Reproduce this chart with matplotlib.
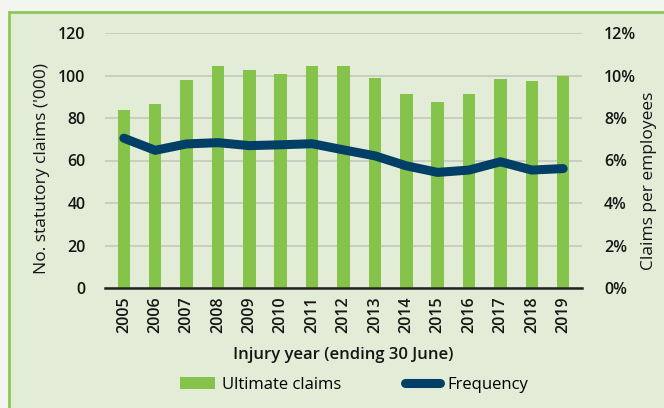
import numpy as np
import matplotlib.pyplot as plt
from matplotlib.patches import Rectangle

plt.rcParams['font.family'] = ['Open Sans', 'DejaVu Sans']

# Data
years = ['2005', '2006', '2007', '2008', '2009', '2010', '2011', '2012',
         '2013', '2014', '2015', '2016', '2017', '2018', '2019']
ultimate_claims = [83.8, 86.5, 97.9, 104.6, 102.4, 100.6, 104.3, 104.5,
                   98.7, 91.1, 87.7, 91.5, 98.2, 97.3, 99.8]
frequency = [7.05, 6.48, 6.78, 6.84, 6.70, 6.74, 6.79, 6.50,
             6.22, 5.75, 5.44, 5.55, 5.94, 5.55, 5.62]

bar_color = '#86c34a'
line_color = '#023f66'
panel_bg = '#e3ecd7'
txt = '#151515'

fig = plt.figure(figsize=(6.64, 4.08), dpi=100)
fig.patch.set_facecolor('#f3f6ee')

# green framed panel behind the axes
fig.patches.append(Rectangle((9 / 664, -0.05), 1.0, 1 - 12 / 408 + 0.05,
                             transform=fig.transFigure, facecolor=panel_bg,
                             edgecolor='#8dc853', linewidth=2, zorder=-5))

ax = fig.add_axes([105 / 664, 1 - 288 / 408, (582 - 105) / 664, (288 - 33) / 408])
ax.set_facecolor('none')
x = np.arange(len(years))
ax.bar(x, ultimate_claims, width=0.4, color=bar_color, zorder=2,
       label='Ultimate claims')
ax.set_ylim(0, 120)
ax.set_xlim(-0.6, len(years) - 0.4)
ax.set_yticks(range(0, 121, 20))
ax.yaxis.grid(True, color='#c4c8c0', linewidth=1.2, zorder=0)
ax.set_axisbelow(True)
for s in ['top', 'right', 'left']:
    ax.spines[s].set_visible(False)
ax.spines['bottom'].set_color('#222222')
ax.spines['bottom'].set_linewidth(1.8)
ax.tick_params(axis='both', length=0, labelsize=11.5, colors=txt)
ax.tick_params(axis='y', pad=14)
ax.tick_params(axis='x', pad=6)
ax.set_xticks(x)
ax.set_xticklabels(years, rotation=90, fontweight='semibold')
for t in ax.get_yticklabels():
    t.set_fontweight('semibold')
ax.set_ylabel("No. statutory claims ('000)", fontsize=12.5, color=txt)
ax.yaxis.set_label_coords(-0.116, 0.47)
ax.set_xlabel('Injury year (ending 30 June)', fontsize=12, fontweight='semibold',
              color=txt, labelpad=10)

ax2 = ax.twinx()
ax2.plot(x, frequency, color=line_color, linewidth=6.5, solid_capstyle='round',
         zorder=3, label='Frequency')
ax2.set_ylim(0, 12)
ax2.set_yticks(range(0, 13, 2))
ax2.set_yticklabels([f'{v}%' for v in range(0, 13, 2)], fontweight='semibold')
for s in ['top', 'right', 'left', 'bottom']:
    ax2.spines[s].set_visible(False)
ax2.tick_params(axis='y', length=0, labelsize=11.5, colors=txt, pad=16)
ax2.set_ylabel('Claims per employees', fontsize=12.5, color=txt)
ax2.yaxis.set_label_coords(1.124, 0.42)

h1, l1 = ax.get_legend_handles_labels()
h2, l2 = ax2.get_legend_handles_labels()
fig.legend(h1 + h2, l1 + l2, loc='center', bbox_to_anchor=(354 / 664, 1 - 385 / 408),
           ncol=2, frameon=False, fontsize=12, handlelength=2.1, columnspacing=3.8,
           handletextpad=0.45)

fig.savefig('out.png', dpi=100, facecolor=fig.get_facecolor())
